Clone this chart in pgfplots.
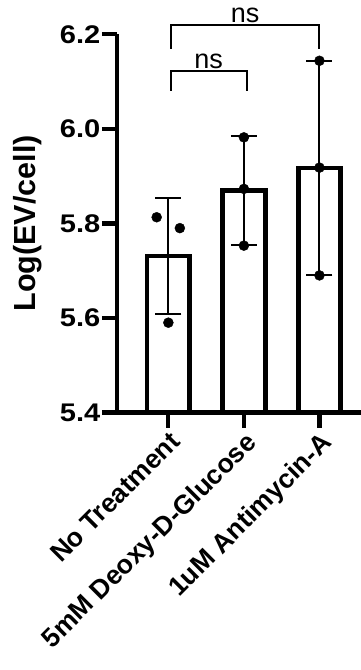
\documentclass[border=0pt]{standalone}
\usepackage{pgfplots}
\pgfplotsset{compat=1.18}
\usepackage{fontspec}
\setmainfont{Liberation Sans}
\newfontfamily\wide[FakeStretch=1.14]{Liberation Sans}
\begin{document}
\begin{tikzpicture}
\begin{axis}[
  name=ax,
  scale only axis,
  width=244bp, height=378.2bp,
  xmin=-0.68, xmax=2.55,
  ymin=5.4, ymax=6.2,
  axis lines=left,
  axis line style={-, line width=4.5bp},
  ytick={5.4,5.6,5.8,6.0,6.2},
  xtick={0,1,2},
  xticklabels={No Treatment, 5mM Deoxy-D-Glucose, 1uM Antimycin-A},
  tick align=outside,
  major tick length=15bp,
  major tick style={line width=4.2bp, black},
  yticklabel style={font=\fontsize{25.5bp}{30bp}\wide\bfseries, inner sep=1.5bp, /pgf/number format/.cd, fixed, fixed zerofill, precision=1, assume math mode=true},
  xticklabel style={font=\fontsize{26.6bp}{30bp}\selectfont\bfseries, rotate=45, anchor=north east, inner sep=2bp},
  ylabel={Log(EV/cell)},
  every axis y label/.style={at={(axis description cs:-0.3648,0.5)}, rotate=90, anchor=center, font=\fontsize{30.5bp}{34bp}\selectfont\bfseries},
]
\addplot[ybar, bar width=0.564, draw=black, fill=white, line width=4.8bp,
  error bars/.cd, y dir=both, y explicit,
  error bar style={line width=2bp, black},
  error mark options={rotate=90, line width=2bp, mark size=13bp, black}]
coordinates {(0,5.731) +- (0,0.123) (1,5.869) +- (0,0.115) (2,5.917) +- (0,0.227)};
\addplot[only marks, mark=*, mark size=5bp, black]
coordinates {(-0.155,5.813) (0.152,5.790) (0,5.590) (1,5.982) (1,5.873) (1,5.753) (2,6.144) (2,5.918) (2,5.690)};
\coordinate (t1) at (axis cs:0.03,6.169);
\coordinate (t2) at (axis cs:0.03,6.220);
\coordinate (t3) at (axis cs:2.0,6.220);
\coordinate (t4) at (axis cs:2.0,6.169);
\coordinate (n1) at (axis cs:1.015,6.224);
\coordinate (l1) at (axis cs:0.03,6.081);
\coordinate (l2) at (axis cs:0.03,6.123);
\coordinate (l3) at (axis cs:1.035,6.123);
\coordinate (l4) at (axis cs:1.035,6.081);
\coordinate (n2) at (axis cs:0.5325,6.128);
\end{axis}
\draw[line width=2bp] (t1) -- (t2) -- (t3) -- (t4);
\draw[line width=2bp] (l1) -- (l2) -- (l3) -- (l4);
\node[anchor=base, inner sep=0pt, font=\fontsize{27bp}{32bp}\selectfont] at (n1) {ns};
\node[anchor=base, inner sep=0pt, font=\fontsize{27bp}{32bp}\selectfont] at (n2) {ns};
\pgfresetboundingbox
\path[use as bounding box] ([xshift=-117bp, yshift=-257.5bp]ax.south west) rectangle ++(361bp,670bp);
\end{tikzpicture}
\end{document}
